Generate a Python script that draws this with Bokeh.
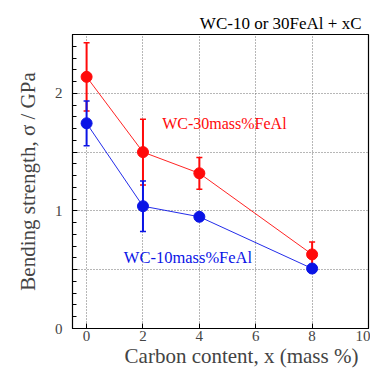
from bokeh.plotting import figure
from bokeh.models import (ColumnDataSource, Whisker, FixedTicker, Label, Range1d)
from bokeh.embed import file_html
from bokeh.resources import INLINE

carbon = [0, 2, 4, 8]
s30 = [2.14, 1.50, 1.32, 0.63]
s30_err = [0.29, 0.28, 0.135, 0.105]
s10 = [1.745, 1.04, 0.95, 0.51]
s10_err = [0.19, 0.215, 0.0, 0.0]
x_ticks = [0, 2, 4, 6, 8, 10]
y_ticks = [0, 0.5, 1, 1.5, 2, 2.5]
y_minor = [i * 0.1 for i in range(26)]
title_text = "WC-10 or 30FeAl + xC"
x_label = "Carbon content, x (mass %)"
y_label = "Bending strength, σ / GPa"
label30 = "WC-30mass%FeAl"
label10 = "WC-10mass%FeAl"

FONT = "Liberation Serif"
RED = "#ff0a0a"
BLUE = "#0a14e6"

p = figure(width=370, height=370, output_backend="svg", toolbar_location=None,
           x_range=Range1d(-0.5, 10), y_range=Range1d(0, 2.5),
           min_border_left=72, min_border_right=2, min_border_top=34, min_border_bottom=40)

p.title.text = title_text
p.title.align = "right"
p.title.text_font = FONT
p.title.text_font_style = "normal"
p.title.text_font_size = "17px"
p.title.text_color = "black"
p.title.standoff = 3
p.title.offset = 7

p.outline_line_color = "black"
p.outline_line_width = 1.2
p.background_fill_color = "white"
p.border_fill_color = "white"

for ax in (p.xaxis[0], p.yaxis[0]):
    ax.major_tick_in = 5
    ax.major_tick_out = 0
    ax.minor_tick_in = 4
    ax.minor_tick_out = 0
    ax.axis_line_color = "black"
    ax.major_label_text_font = FONT
    ax.major_label_text_font_size = "15px"
    ax.axis_label_text_font = FONT
    ax.axis_label_text_font_size = "21px"
    ax.axis_label_text_font_style = "normal"

p.xaxis[0].ticker = FixedTicker(ticks=x_ticks, minor_ticks=[])
p.yaxis[0].ticker = FixedTicker(ticks=y_ticks, minor_ticks=y_minor)
p.yaxis[0].major_label_overrides = {0.5: "", 1.5: "", 2.5: ""}
# em spaces shift the centred label to the right, as in the reference
p.xaxis[0].axis_label = "\u2003\u2003" + x_label
p.yaxis[0].axis_label = y_label
p.xaxis[0].major_label_standoff = 2
p.xaxis[0].axis_label_standoff = 0
p.yaxis[0].major_label_standoff = 10
p.yaxis[0].axis_label_standoff = 12

p.xgrid.ticker = FixedTicker(ticks=[0, 2, 4, 6, 8])
p.ygrid.ticker = FixedTicker(ticks=y_ticks)
for g in (p.xgrid[0], p.ygrid[0]):
    g.grid_line_color = "#6e6e6e"
    g.grid_line_dash = "1 2"
    g.grid_line_width = 1

src30 = ColumnDataSource(dict(x=carbon, y=s30,
                              lo=[a - b for a, b in zip(s30, s30_err)],
                              hi=[a + b for a, b in zip(s30, s30_err)]))
src10 = ColumnDataSource(dict(x=carbon, y=s10,
                              lo=[a - b for a, b in zip(s10, s10_err)],
                              hi=[a + b for a, b in zip(s10, s10_err)]))

for src, col in ((src30, RED), (src10, BLUE)):
    w = Whisker(base="x", lower="lo", upper="hi", source=src, line_color=col, line_width=2)
    w.upper_head.size = 6
    w.lower_head.size = 6
    w.upper_head.line_color = col
    w.lower_head.line_color = col
    w.upper_head.line_width = 1.5
    w.lower_head.line_width = 1.5
    p.add_layout(w)
    p.line("x", "y", source=src, line_color=col, line_width=0.9)
    p.scatter("x", "y", source=src, size=11, fill_color=col, line_color=col)

p.add_layout(Label(x=2.68, y=1.74, text=label30, text_color=RED, text_font=FONT,
                   text_font_size="16px", text_baseline="middle"))
p.add_layout(Label(x=1.32, y=0.60, text=label10, text_color=BLUE, text_font=FONT,
                   text_font_size="16.5px", text_baseline="middle"))

open("out.html", "w").write(file_html(p, INLINE))
